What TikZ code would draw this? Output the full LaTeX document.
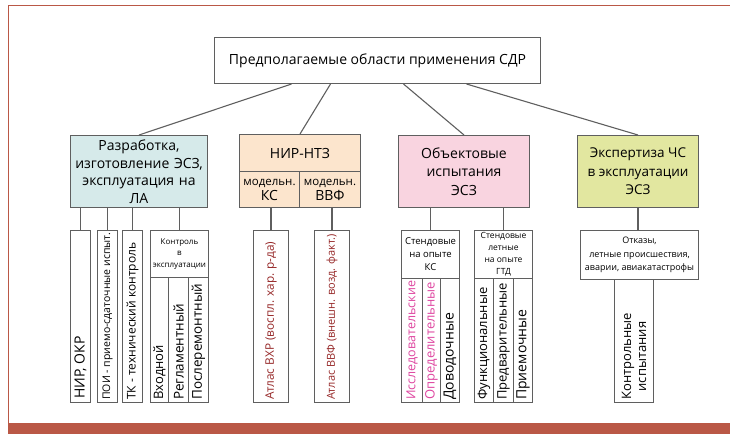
\documentclass[tikz,border=0pt]{standalone}
\usepackage{fontspec}
\setmainfont{Open Sans}
\definecolor{frameclr}{RGB}{186,88,70}
\definecolor{boxgray}{RGB}{95,95,95}
\definecolor{devclr}{RGB}{214,234,234}
\definecolor{ntzclr}{RGB}{252,229,205}
\definecolor{objclr}{RGB}{249,212,224}
\definecolor{expclr}{RGB}{226,231,160}
\definecolor{atlclr}{RGB}{150,40,40}
\definecolor{resclr}{RGB}{222,70,160}
\newcommand{\fs}[2]{\fontsize{#1}{#2}\selectfont}
\begin{document}
\begin{tikzpicture}[x=1pt,y=-1pt,
    box/.style={draw=boxgray, line width=1pt, anchor=north west, inner sep=0pt, align=center},
    vlbl/.style={rotate=90, anchor=west, inner sep=0pt, align=center},
    link/.style={draw=boxgray, line width=1.1pt}]
    \useasboundingbox (0,0) rectangle (730,434);
    % frame
    \fill[frameclr] (8,423) rectangle (730,434);
    \draw[frameclr, line width=1.4pt] (8.5,423) -- (8.5,5.5) -- (730,5.5);
    % root and first level
    \node[box, minimum width=326, minimum height=46, font=\fs{14}{17}] (root) at (214,37) {Предполагаемые области применения СДР};
    \node[box, fill=devclr, text width=137, minimum height=72, font=\fs{14}{17.5}] (dev) at (70,135) {Разработка,\\изготовление ЭСЗ,\\эксплуатация на\\ЛА};
    \node[box, fill=ntzclr, minimum width=121, minimum height=37, font=\fs{14}{16}] (ntz) at (239,134) {НИР-НТЗ};
    \node[box, fill=ntzclr, minimum width=60, minimum height=36, font=\fs{11.5}{15}] (modks) at (239,171) {модельн.\\\fs{14}{15}КС};
    \node[box, fill=ntzclr, minimum width=61, minimum height=36, font=\fs{11.5}{15}] (modvvf) at (299,171) {модельн.\\\fs{14}{15}ВВФ};
    \node[box, fill=objclr, minimum width=131, minimum height=72, font=\fs{14}{18.5}] (obj) at (398,135) {Объектовые\\испытания\\ЭСЗ};
    \node[box, fill=expclr, minimum width=121, minimum height=72, font=\fs{13.5}{18.5}] (exp) at (577,135) {Экспертиза ЧС\\в эксплуатации\\ЭСЗ};
    \draw[link] ([xshift=-86pt]root.south) -- (dev.north);
    \draw[link] ([xshift=-47pt]root.south) -- (ntz.north);
    \draw[link] ([xshift=26pt]root.south) -- (obj.north);
    \draw[link] ([xshift=89pt]root.south) -- (exp.north);
    % development branch
    \node[box, minimum width=20, minimum height=172] (nir) at (70,230) {};
    \node[box, minimum width=20, minimum height=172] (poi) at (97,230) {};
    \node[box, minimum width=20, minimum height=172] (tk) at (122,230) {};
    \node[box, minimum width=58, minimum height=47, font=\fs{8}{11.5}] (ctrl) at (150,230) {Контроль\\в\\эксплуатации};
    \node[box, minimum width=18, minimum height=125] (inp) at (150,277) {};
    \node[box, minimum width=20, minimum height=125] (reg) at (168,277) {};
    \node[box, minimum width=20, minimum height=125] (post) at (188,277) {};
    \node[vlbl, font=\fs{14}{16}] (nirt) at ([yshift=4pt]nir.south) {НИР, ОКР};
    \node[vlbl, font=\fs{10.5}{12}] (poit) at ([yshift=3pt]poi.south) {ПОИ - приемо-сдаточные испыт.};
    \node[vlbl, font=\fs{12}{14}] (tkt) at ([yshift=3pt]tk.south) {ТК - технический контроль};
    \node[vlbl, font=\fs{13}{14}] (inpt) at ([yshift=3pt]inp.south) {Входной};
    \node[vlbl, font=\fs{13.5}{14}] (regt) at ([yshift=3pt]reg.south) {Регламентный};
    \node[vlbl, font=\fs{13.5}{14}] (postt) at ([yshift=3pt]post.south) {Послеремонтный};
    \draw[link] (nir.north) -- (nir.north |- dev.south);
    \draw[link] (poi.north) -- (poi.north |- dev.south);
    \draw[link] (tk.north) -- (tk.north |- dev.south);
    \draw[link] (ctrl.north) -- (ctrl.north |- dev.south);
    % research branch
    \node[box, minimum width=35, minimum height=172] (atlvhr) at (253,230) {};
    \node[box, minimum width=35, minimum height=172] (atlvvf) at (314,230) {};
    \node[vlbl, text=atlclr, font=\fs{11.8}{13}] (atlvhrt) at ([yshift=3pt]atlvhr.south) {Атлас ВХР (воспл. хар. р-да)};
    \node[vlbl, text=atlclr, font=\fs{11}{13}] (atlvvft) at ([yshift=3pt]atlvvf.south) {Атлас ВВФ (внешн. возд. факт.)};
    \draw[link] (atlvhr.north) -- (atlvhr.north |- modks.south);
    \draw[link] (atlvvf.north) -- (atlvvf.north |- modvvf.south);
    % object tests branch
    \node[box, minimum width=58, minimum height=48, font=\fs{9.5}{13}] (stks) at (401,230) {Стендовые\\на опыте\\КС};
    \node[box, minimum width=21, minimum height=124] (res) at (401,278) {};
    \node[box, minimum width=18, minimum height=124] (det) at (422,278) {};
    \node[box, minimum width=19, minimum height=124] (dov) at (440,278) {};
    \node[box, minimum width=58, minimum height=48, font=\fs{8.5}{12}] (stgtd) at (474,230) {Стендовые\\летные\\на опыте\\ГТД};
    \node[box, minimum width=19, minimum height=124] (fun) at (474,278) {};
    \node[box, minimum width=20, minimum height=124] (pre) at (493,278) {};
    \node[box, minimum width=19, minimum height=124] (acc) at (513,278) {};
    \node[vlbl, text=resclr, font=\fs{12.5}{14}] (rest) at ([yshift=3pt]res.south) {Исследовательские};
    \node[vlbl, text=resclr, font=\fs{13}{14}] (dett) at ([yshift=3pt]det.south) {Определительные};
    \node[vlbl, font=\fs{14}{14}] (dovt) at ([yshift=3pt]dov.south) {Доводочные};
    \node[vlbl, font=\fs{13}{14}] (funt) at ([yshift=3pt]fun.south) {Функциональные};
    \node[vlbl, font=\fs{13}{14}] (pret) at ([yshift=3pt]pre.south) {Предварительные};
    \node[vlbl, font=\fs{14}{14}] (acct) at ([yshift=3pt]acc.south) {Приемочные};
    \draw[link] (stks.north) -- (stks.north |- obj.south);
    \draw[link] (stgtd.north) -- (stgtd.north |- obj.south);
    % expertise branch
    \node[box, minimum width=118, minimum height=49, font=\fs{9}{13.5}] (fail) at (580,230) {Отказы,\\летные происшествия,\\аварии, авиакатастрофы};
    \node[box, minimum width=39, minimum height=123] (ctest) at (614,279) {};
    \node[vlbl, font=\fs{13}{15}] (ctestt) at ([yshift=3pt]ctest.south) {Контрольные\\испытания};
    \draw[link] (exp.south) -- (exp.south |- fail.north);
\end{tikzpicture}
\end{document}
